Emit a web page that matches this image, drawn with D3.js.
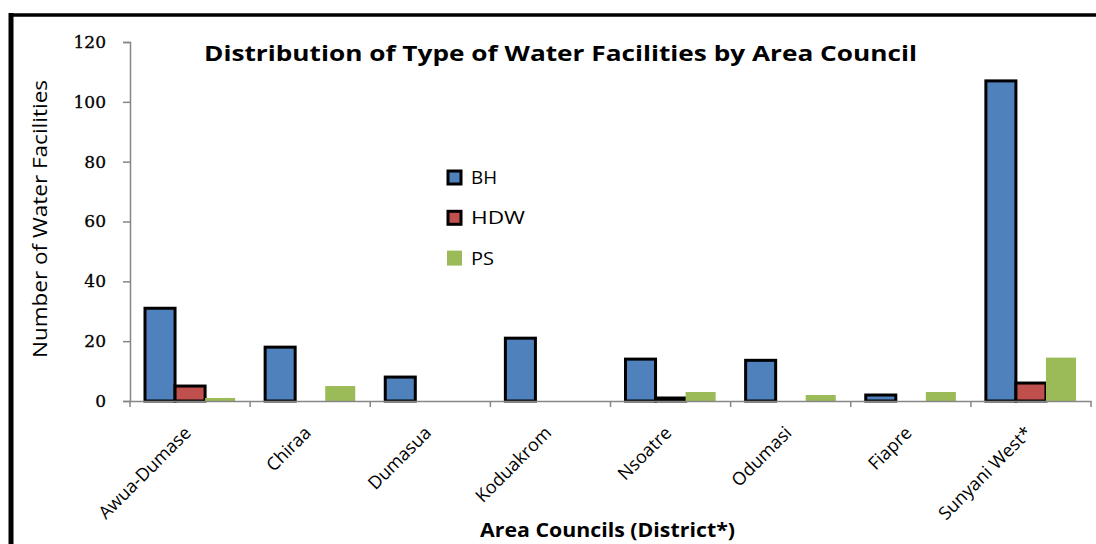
<!DOCTYPE html>
<html>
<head>
<meta charset="utf-8">
<script src="https://cdn.jsdelivr.net/npm/d3@7"></script>
<style>
    body { margin: 0; background: #fff; }
</style>
</head>
<body>
<div id="chart"></div>
<script>
// area councils (x categories)
const councils = ["Awua-Dumase", "Chiraa", "Dumasua", "Koduakrom", "Nsoatre", "Odumasi", "Fiapre", "Sunyani West*"];
const seriesNames = ["BH", "HDW", "PS"];
const bhValues = [31, 18, 8, 21, 14, 13.6, 2, 107];
const hdwValues = [5, 0, 0, 0, 1, 0, 0, 6];
const psValues = [1, 5, 0, 0, 3, 2, 3, 14.5];
const yTicks = [0, 20, 40, 60, 80, 100, 120];

const colors = {BH: "#4F81BD", HDW: "#C0504D", PS: "#9BBB59"};
const outlined = {BH: true, HDW: true, PS: false};
// widths the legend labels take up in the original
const legendWidths = {BH: 26, HDW: 54, PS: 23};

const width = 1096, height = 544;
const plot = {left: 130, right: 1091, top: 42, bottom: 401};

const svg = d3.select("#chart").append("svg")
    .attr("width", width)
    .attr("height", height);

// frame (only the left and top edges fall inside the picture)
svg.append("line")
    .attr("x1", 11).attr("x2", 11).attr("y1", 13).attr("y2", height)
    .attr("stroke", "#000").attr("stroke-width", 5);
svg.append("line")
    .attr("x1", 9).attr("x2", width).attr("y1", 15).attr("y2", 15)
    .attr("stroke", "#000").attr("stroke-width", 3.5);

const x0 = d3.scaleBand()
    .domain(councils)
    .range([plot.left, plot.right])
    .padding(0);

const x1 = d3.scaleBand()
    .domain(seriesNames)
    .range([15, x0.bandwidth() - 15])
    .padding(0);

const y = d3.scaleLinear()
    .domain([0, 120])
    .range([plot.bottom, plot.top]);

// build rows from the arrays
const table = councils.map((c, i) => ({
    council: c,
    values: [
        {key: "BH", value: bhValues[i]},
        {key: "HDW", value: hdwValues[i]},
        {key: "PS", value: psValues[i]}
    ]
}));

const groups = svg.append("g").selectAll(".group")
    .data(table)
    .enter().append("g")
    .attr("class", "group")
    .attr("transform", d => `translate(${x0(d.council)},0)`);

groups.selectAll("rect")
    .data(d => d.values.filter(v => v.value > 0))
    .enter().append("rect")
    .attr("x", d => x1(d.key))
    .attr("width", x1.bandwidth())
    .attr("y", d => y(d.value))
    .attr("height", d => y(0) - y(d.value))
    .attr("fill", d => colors[d.key])
    .attr("stroke", d => outlined[d.key] ? "#000" : "none")
    .attr("stroke-width", 3);

// y axis
const yAxis = svg.append("g")
    .attr("transform", `translate(${plot.left},0)`)
    .call(d3.axisLeft(y).tickValues(yTicks).tickSize(7).tickPadding(17));
yAxis.select(".domain").attr("stroke", "#868686").attr("stroke-width", 1.5);
yAxis.selectAll(".tick line").attr("stroke", "#868686").attr("stroke-width", 1.5);
yAxis.selectAll(".tick text")
    .attr("font-family", "DejaVu Serif")
    .attr("font-size", 17)
    .attr("fill", "#000")
    .attr("stroke", "#000")
    .attr("stroke-width", 0.3);

// x axis
const xAxis = svg.append("g")
    .attr("transform", `translate(0,${plot.bottom})`)
    .call(d3.axisBottom(x0).tickSize(0).tickFormat(""));
xAxis.select(".domain").attr("stroke", "#868686").attr("stroke-width", 1.5);

// category separators on x axis
svg.append("g").selectAll("line")
    .data(councils.concat(["end"]))
    .enter().append("line")
    .attr("x1", (d, i) => plot.left + i * x0.step())
    .attr("x2", (d, i) => plot.left + i * x0.step())
    .attr("y1", plot.bottom)
    .attr("y2", plot.bottom + 6)
    .attr("stroke", "#868686")
    .attr("stroke-width", 1.5);

// rotated category labels
svg.append("g").selectAll("text")
    .data(councils)
    .enter().append("text")
    .attr("transform", d => `translate(${x0(d) + x0.bandwidth() / 2 + 2},${plot.bottom + 33}) rotate(-45)`)
    .attr("text-anchor", "end")
    .attr("font-family", "Open Sans")
    .attr("font-size", 18)
    .attr("fill", "#000")
    .text(d => d);

// title
svg.append("text")
    .attr("x", 560.5)
    .attr("y", 61)
    .attr("text-anchor", "middle")
    .attr("font-family", "Open Sans")
    .attr("font-weight", "bold")
    .attr("font-size", 22)
    .attr("textLength", 713)
    .attr("lengthAdjust", "spacingAndGlyphs")
    .text("Distribution of Type of Water Facilities by Area Council");

// axis titles
svg.append("text")
    .attr("transform", `translate(47,219) rotate(-90)`)
    .attr("text-anchor", "middle")
    .attr("font-family", "Open Sans")
    .attr("font-size", 20)
    .attr("textLength", 278)
    .attr("lengthAdjust", "spacingAndGlyphs")
    .text("Number of Water Facilities");

svg.append("text")
    .attr("x", 607.5)
    .attr("y", 537)
    .attr("text-anchor", "middle")
    .attr("font-family", "Open Sans")
    .attr("font-weight", "bold")
    .attr("font-size", 19)
    .attr("textLength", 255)
    .attr("lengthAdjust", "spacingAndGlyphs")
    .text("Area Councils (District*)");

// legend
const legend = svg.append("g").selectAll(".legend")
    .data(seriesNames)
    .enter().append("g")
    .attr("class", "legend")
    .attr("transform", (d, i) => `translate(448,${177.5 + i * 40.3})`);

legend.append("rect")
    .attr("x", d => outlined[d] ? 0 : -1)
    .attr("y", d => outlined[d] ? -6.5 : -7.5)
    .attr("width", d => outlined[d] ? 13 : 15)
    .attr("height", d => outlined[d] ? 13 : 15)
    .attr("fill", d => colors[d])
    .attr("stroke", d => outlined[d] ? "#000" : "none")
    .attr("stroke-width", 3);

legend.append("text")
    .attr("x", 23)
    .attr("y", 0)
    .attr("dy", "0.36em")
    .attr("font-family", "Open Sans")
    .attr("font-size", 18)
    .attr("textLength", d => legendWidths[d])
    .attr("lengthAdjust", "spacingAndGlyphs")
    .text(d => d);
</script>
</body>
</html>
